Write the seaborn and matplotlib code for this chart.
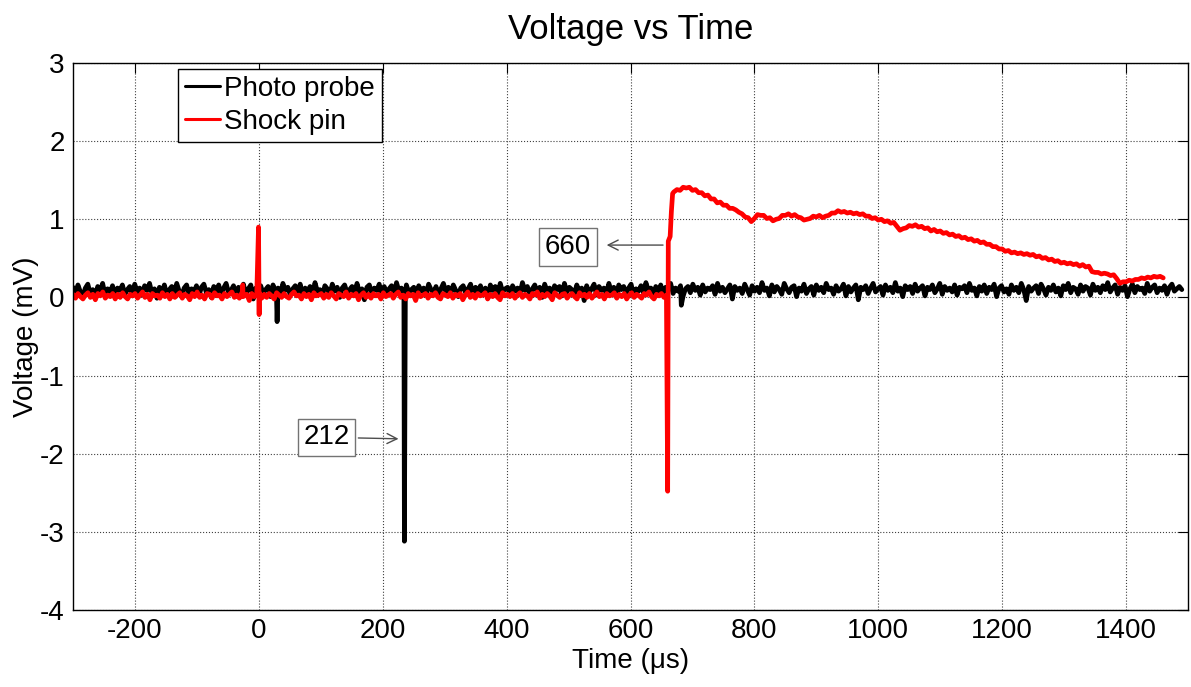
import numpy as np
import pandas as pd
import seaborn as sns
import matplotlib.pyplot as plt

# ---- data ----
# photo probe baseline (mV), evenly sampled from -300 to 1490 us
photo_base = [
    .13, .04, .16, .07, .02, .12, .17, .05, .10, .00, .14, .08, .18, .03, .11, .06, .15, .01, .12, .09,
    .16, .04, .10, .14, .02, .17, .07, .12, .03, .15, .09, .18, .05, .11, -.01, .13, .06, .16, .03, .10,
    .14, .05, .18, .08, .01, .12, .16, .04, .11, .07, .15, .02, .13, .17, .06, .10, .00, .14, .08, .16,
    .03, .12, .18, .06, .09, .15, .02, .13, .07, .17, .04, .11, .16, -.02, .12, .08, .15, .05, .10, .14,
    .01, .16, .07, .12, .04, .18, .09, .13, .03, .11, .15, .06, .17, .02, .12, .08, .14, .05, .19, .07,
    .10, .03, .15, .11, .04, .17, .08, .13, .00, .12, .16, .06, .10, .14, .03, .18, .07, .11, -.03, .13,
    .16, .05, .12, .09, .17, .02, .14, .07, .11, .15, .04, .19, .08, .12, .03, .16, .06, .10, .13, .01,
    .15, .08, .12, .04, .17, .10, .06, .14, .02, .11, .18, .07, .13, .05, .16, .09, .01, .12, .15, .06,
    .11, .17, .03, .13, .08, .15, .05, .12, -.01, .16, .09, .14, .04, .18, .07, .11, .13, .02, .15, .08,
    .12, .05, .19, .09, .14, .03, .11, .16, .06, .13, .00, .17, .08, .12, .04, .15, .10, .14, .02, .18,
    .07, .13, .10, .04, .16, .08, .12, -.04, .15, .06, .11, .17, .03, .14, .09, .12, .05, .18, .07, .13,
    .01, .16, .10, .14, .05, .12, .17, .03, .11, .08, .15, .06, .19, .09, .12, .02, .14, .07, .16, .04,
    .13, .10, .18, .05, .12, .08, .15, .01, .11, .14, .06, .17, .09, .13, .03, .16, .07, .12, .10, .15,
    .04, .18, .08, .13, .06, .11, .16, -.02, .14, .09, .12, .05, .17, .10, .03, .15, .08, .13, .06, .19,
    .09, .12, .02, .16, .07, .14, .10, .04, .18, .11, .06, .13, .15, .01, .12, .08, .17, .05, .11, .14,
    .03, .16, .09, .13, .06, .18, .10, .12, .04, .15, .08, .11, .17, .02, .14, .07, .12, .16, -.03, .13,
    .10, .15, .05, .12, .18, .07, .11, .14, .03, .16, .09, .13, .06, .19, .08, .12, .01, .15, .10, .14,
    .05, .17, .08, .12, .15, .02, .13, .10, .16, .06, .11, .18, .04, .14, .09, .12, .07, .16, .03, .13,
    .11, .15, .06, .18, .09, .12, .02, .14, .08, .16, .05, .13, .10, .17, .01, .12, .15, .07, .11, .04,
    .16, .09, .13, .06, .18, .10, -.04, .14, .08, .12, .15, .05, .17, .11, .03, .13, .09, .16, .07, .12,
    .02, .15, .10, .18, .06, .13, .11, .04, .16, .08, .14, .12, .03, .17, .09, .13, .06, .15, .10, .19,
    .07, .12, .16, .04, .13, .09, .15, .01, .11, .17, .06, .14, .10, .12, .05, .18, .08, .13, .16, .06,
    .12, .09, .15, .04, .13, .17, .08, .11, .14, .10,
]
photo_start, photo_end = -300, 1490
# photo probe spikes (time us, mV)
photo_spike_t = [28.5, 29.5, 30.5, 233.0, 235.0, 236.5, 682.0]
photo_spike_v = [0.02, -0.31, 0.03, 0.00, -3.12, 0.05, -0.10]

# shock pin baseline (mV), evenly sampled from -300 to 658 us
shock_base = [
    .04, -.01, .05, .01, -.02, .03, .06, .00, .04, -.03, .05, .02, .07, -.01, .03, .01, .05, -.02, .04, .00,
    .06, .01, -.02, .04, .02, .05, -.01, .03, .07, .00, .04, -.03, .05, .02, .03, -.01, .06, .01, .04, -.02,
    .05, .00, .03, .06, -.01, .04, .02, -.03, .05, .01, .07, .00, .03, -.02, .05, .04, -.01, .06, .02, .03,
    -.02, .05, .01, .04, .07, .00, .03, -.01, .06, .02, .04, -.04, .05, .01, .03, .06, -.01, .04, .00, .05,
    .02, -.02, .06, .03, .00, .05, .01, -.01, .04, .07, .02, .03, -.02, .05, .01, .04, -.03, .06, .02, .03,
    .05, -.01, .04, .00, .06, .02, -.02, .05, .03, .01, .07, -.01, .04, .02, .05, -.03, .03, .06, .00, .04,
    -.01, .05, .02, .04, -.02, .06, .01, .03, .05, -.01, .04, .07, .00, .03, -.02, .05, .02, .04, -.04, .06,
    .01, .03, .05, -.01, .04, .02, .06, .00, -.02, .05, .03, .01, .06, -.01, .04, .02, .05, -.03, .03, .07,
    .00, .04, -.01, .05, .02, .03, .06, -.02, .04, .01, .05, .00, -.03, .06, .02, .04, .01, .05, -.01, .03,
    .06, .00, .04, .02, -.02, .05, .03, .07, -.01, .04, .01, .05, .02, -.03, .06, .03, .00, .04, .05, -.01,
    .03, .05, .01, -.02, .06, .02, .04, .00, .05, -.01, .03, .07, .01, .04, -.02, .05, .02, .03, .06, -.01,
    .04, .01, .05, -.02, .03, .06, .00, .04, .02, -.01, .05, .03, .07, .01, -.02, .04, .02, .05, .00, .03,
]
shock_start, shock_end = -300, 658
shock_spike_t = [-26.5, -26.0, -25.5, -0.5, 0.5]
shock_spike_v = [0.02, 0.16, 0.01, 0.90, -0.22]

# shock arrival
shock_hit_t = [660, 661, 664, 666, 668]
shock_hit_v = [-2.48, 0.72, 0.78, 1.10, 1.33]
# shock pin decay (mV), evenly sampled from 670 to 1460 us
shock_decay = [
    1.35, 1.38, 1.37, 1.41, 1.40, 1.41, 1.37, 1.38, 1.34, 1.34, 1.30, 1.31, 1.26, 1.26, 1.21, 1.22, 1.18, 1.18, 1.14, 1.14,
    1.12, 1.09, 1.07, 1.03, 1.02, 0.97, 1.01, 1.06, 1.05, 1.05, 1.01, 1.02, 0.98, 1.00, 1.01, 1.05, 1.05, 1.07, 1.04, 1.06,
    1.03, 1.02, 0.99, 1.00, 1.01, 1.04, 1.03, 1.05, 1.02, 1.04, 1.05, 1.08, 1.08, 1.11, 1.09, 1.10, 1.08, 1.09, 1.07, 1.08,
    1.06, 1.07, 1.04, 1.04, 1.01, 1.02, 0.99, 1.00, 0.97, 0.98, 0.95, 0.96, 0.91, 0.86, 0.88, 0.89, 0.92, 0.91, 0.93, 0.90,
    0.91, 0.88, 0.89, 0.85, 0.87, 0.84, 0.85, 0.82, 0.83, 0.80, 0.81, 0.78, 0.79, 0.76, 0.77, 0.74, 0.75, 0.72, 0.73, 0.70,
    0.71, 0.68, 0.68, 0.65, 0.65, 0.62, 0.62, 0.59, 0.60, 0.57, 0.58, 0.56, 0.57, 0.55, 0.56, 0.54, 0.55, 0.52, 0.53, 0.50,
    0.51, 0.48, 0.49, 0.46, 0.47, 0.44, 0.45, 0.43, 0.44, 0.42, 0.43, 0.40, 0.42, 0.39, 0.40, 0.33, 0.32, 0.32, 0.30, 0.31,
    0.30, 0.28, 0.29, 0.24, 0.18, 0.20, 0.20, 0.22, 0.21, 0.23, 0.23, 0.25, 0.24, 0.26, 0.25, 0.27, 0.26, 0.27, 0.25,
]
decay_start, decay_end = 670, 1460

labels = ["Photo probe", "Shock pin"]
x_ticks = [-200, 0, 200, 400, 600, 800, 1000, 1200, 1400]
y_ticks = [-4, -3, -2, -1, 0, 1, 2, 3]

# ---- build traces ----
photo_t = np.concatenate([np.linspace(photo_start, photo_end, len(photo_base)), photo_spike_t])
photo_v = np.concatenate([photo_base, photo_spike_v])
shock_t = np.concatenate([np.linspace(shock_start, shock_end, len(shock_base)), shock_spike_t,
                          shock_hit_t, np.linspace(decay_start, decay_end, len(shock_decay))])
shock_v = np.concatenate([shock_base, shock_spike_v, shock_hit_v, shock_decay])

df = pd.concat([
    pd.DataFrame({"Time": photo_t, "Voltage": photo_v, "Signal": labels[0]}),
    pd.DataFrame({"Time": shock_t, "Voltage": shock_v, "Signal": labels[1]}),
])

sns.set_style("white")
plt.rcParams["font.family"] = ["Liberation Sans", "DejaVu Sans"]
plt.rcParams["axes.unicode_minus"] = False
plt.rcParams["text.color"] = "black"
plt.rcParams["axes.labelcolor"] = "black"

fig = plt.figure(figsize=(11.91, 6.87), dpi=100)
ax = fig.add_axes([73 / 1191, 1 - 610 / 687, 1115 / 1191, 547 / 687])

sns.lineplot(data=df, x="Time", y="Voltage", hue="Signal", palette={labels[0]: "black", labels[1]: "red"},
             estimator=None, sort=True, linewidth=3.4, ax=ax)

ax.set_xlim(-300, 1500)
ax.set_ylim(-4, 3)
ax.set_xticks(x_ticks)
ax.set_yticks(y_ticks)
ax.grid(True, linestyle=":", color="0.25", linewidth=0.8)
ax.set_axisbelow(True)
for s in ax.spines.values():
    s.set_color("black")
    s.set_linewidth(1.0)
ax.tick_params(direction="in", top=True, right=True, length=7, width=0.8, labelsize=20, pad=6, colors="black")

ax.set_title("Voltage vs Time", fontsize=25, pad=17, color="black")
ax.set_xlabel("Time (\u03bcs)", fontsize=20, labelpad=3)
ax.set_ylabel("Voltage (mV)", fontsize=20, labelpad=1)

handles, lbls = ax.get_legend_handles_labels()
for h in handles:
    h.set_linewidth(2.2)
ax.legend(handles, lbls, loc="upper left", bbox_to_anchor=(178 / 1191, 1 - 69 / 687),
          bbox_transform=fig.transFigure, fontsize=20, frameon=True, fancybox=False,
          edgecolor="black", framealpha=1, borderpad=0.25, labelspacing=0.25,
          handlelength=1.25, handletextpad=0.15, borderaxespad=0)
ax.get_legend().get_frame().set_linewidth(1.0)

box = dict(boxstyle="square,pad=0.2", fc="white", ec="0.45", lw=1)
arrow = dict(arrowstyle="->", color="0.3", lw=1, mutation_scale=18)
ax.annotate("212", xy=(230, -1.81), xytext=(109, -1.79), fontsize=20, ha="center", va="center",
            bbox=box, arrowprops=arrow)
ax.annotate("660", xy=(557, 0.67), xytext=(499, 0.645), fontsize=20, ha="center", va="center",
            bbox=box)
ax.annotate("", xy=(557, 0.67), xytext=(657, 0.67), arrowprops=arrow)

fig.savefig("out.png", dpi=100, facecolor="white")
